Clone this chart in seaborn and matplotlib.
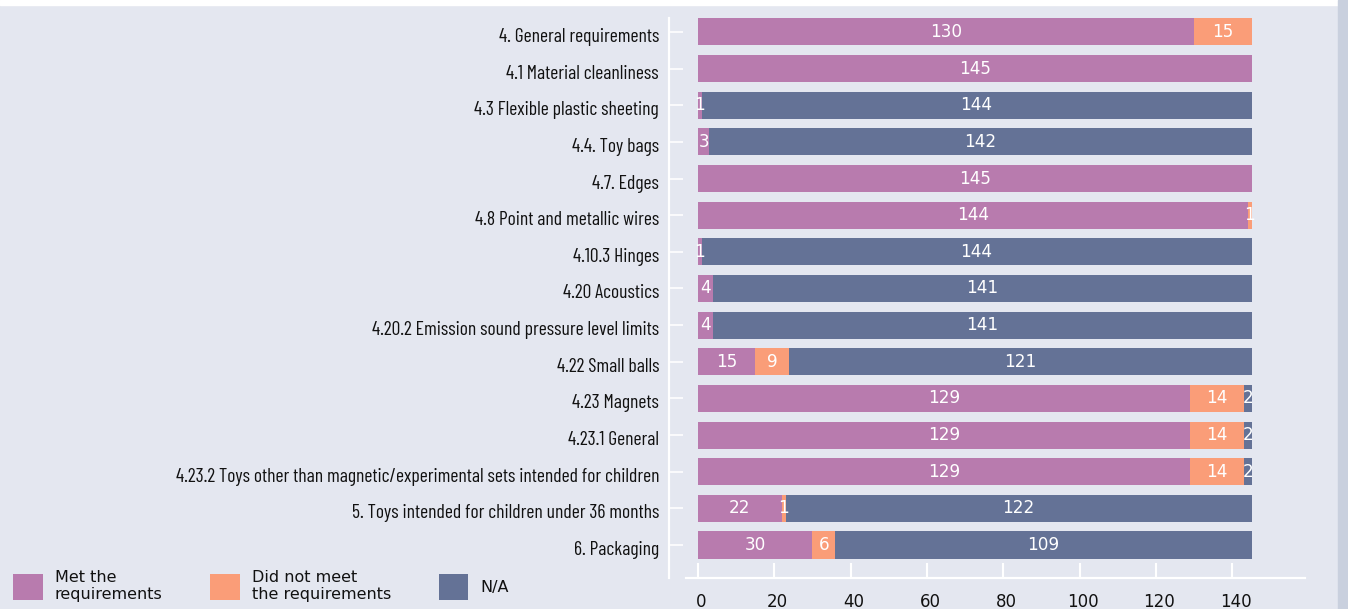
import matplotlib
matplotlib.use("Agg")
import matplotlib.pyplot as plt
from matplotlib.patches import Patch, Rectangle
from matplotlib.transforms import ScaledTranslation
from matplotlib import font_manager
import seaborn as sns
import pandas as pd

# Requirement clauses and sample counts per outcome
categories = [
    "4. General requirements",
    "4.1 Material cleanliness",
    "4.3 Flexible plastic sheeting",
    "4.4. Toy bags",
    "4.7. Edges",
    "4.8 Point and metallic wires",
    "4.10.3 Hinges",
    "4.20 Acoustics",
    "4.20.2 Emission sound pressure level limits",
    "4.22 Small balls",
    "4.23 Magnets",
    "4.23.1 General",
    "4.23.2 Toys other than magnetic/experimental sets intended for children",
    "5. Toys intended for children under 36 months",
    "6. Packaging",
]
met = [130, 145, 1, 3, 145, 144, 1, 4, 4, 15, 129, 129, 129, 22, 30]
not_met = [15, 0, 0, 0, 0, 1, 0, 0, 0, 9, 14, 14, 14, 1, 6]
na = [0, 0, 144, 142, 0, 0, 144, 141, 141, 121, 2, 2, 2, 122, 109]

series_names = ["Met the\nrequirements", "Did not meet\nthe requirements", "N/A"]
x_ticks = [0, 20, 40, 60, 80, 100, 120, 140]

C_MET = "#b87bae"
C_NOT = "#fa9d78"
C_NA = "#647296"
BG = "#e4e7f0"
INK = "#111111"

sns.set_theme(style="white")
plt.rcParams["font.family"] = ["DejaVu Sans"]

# Condensed face for the category labels
installed = {f.name for f in font_manager.fontManager.ttflist}
LABEL_FAMILY = "Barlow Condensed" if "Barlow Condensed" in installed else "DejaVu Sans"

df = pd.DataFrame({"cat": categories, "met": met, "not_met": not_met, "na": na})
df["cum_not"] = df["met"] + df["not_met"]
df["total"] = df["cum_not"] + df["na"]

W, H = 1348, 609
fig = plt.figure(figsize=(W / 100, H / 100), dpi=100, facecolor=BG)
ax = fig.add_axes([686 / W, 1 - 578 / H, (1305 - 686) / W, (578 - 18) / H])
ax.set_facecolor(BG)

# Stacked bars drawn as overlapping cumulative layers
for col, color in [("total", C_NA), ("cum_not", C_NOT), ("met", C_MET)]:
    sns.barplot(data=df, x=col, y="cat", orient="h", color=color,
                width=0.74, saturation=1, ax=ax, linewidth=0)

# Segment value labels
for i, row in df.iterrows():
    start = 0
    for v in (row["met"], row["not_met"], row["na"]):
        if v > 0:
            ax.text(start + v / 2, i, str(v), ha="center", va="center",
                    color="white", fontsize=12.2)
        start += v

ax.set_xlim(-3.1, 159)
ax.set_ylim(14.9, -0.38)
ax.set_xlabel("")
ax.set_ylabel("")

# Spines (positioning resets ticks, so do it before styling tick labels)
ax.spines["top"].set_visible(False)
ax.spines["right"].set_visible(False)
for s in ("left", "bottom"):
    ax.spines[s].set_color("white")
    ax.spines[s].set_linewidth(1.6)
ax.spines["left"].set_position(("outward", 12.2))

ax.tick_params(axis="x", direction="in", length=11, width=1.5, color="white",
               pad=11.0, bottom=True)
ax.tick_params(axis="y", direction="in", length=10, width=1.2, color="white",
               pad=7.2, left=True)

# Size the category labels so the longest one spans about 483 px
renderer = fig.canvas.get_renderer()
probe = fig.text(0, 0, max(categories, key=len), family=LABEL_FAMILY, fontsize=12)
probe_w = probe.get_window_extent(renderer).width
probe.remove()
label_size = 12 * 483 / probe_w

ax.set_xticks(x_ticks)
ax.set_xticklabels([str(t) for t in x_ticks], fontsize=12, color=INK)
ax.set_yticks(range(len(categories)))
ax.set_yticklabels(categories, family=LABEL_FAMILY, fontsize=label_size,
                   color=INK)

# Nudge the category labels and x labels slightly
shift_y = ScaledTranslation(0, -3 / 100, fig.dpi_scale_trans)
for lab in ax.get_yticklabels():
    lab.set_transform(lab.get_transform() + shift_y)
shift_x = ScaledTranslation(3 / 100, 0, fig.dpi_scale_trans)
for lab in ax.get_xticklabels():
    lab.set_transform(lab.get_transform() + shift_x)

# Frame strips around the chart area
fig.patches.append(Rectangle((0, 1 - 5 / H), 1338 / W, 5 / H,
                             transform=fig.transFigure, color="white", zorder=0))
fig.patches.append(Rectangle((1338 / W, 0), 10 / W, 1,
                             transform=fig.transFigure, color="#c9d0de", zorder=0))

handles = [Patch(facecolor=c, edgecolor="none") for c in (C_MET, C_NOT, C_NA)]
fig.legend(handles, series_names, loc="lower left",
           bbox_to_anchor=(13 / W, 7 / H), ncol=3, frameon=False,
           fontsize=11.5, handlelength=1.85, handleheight=2.1,
           handletextpad=0.75, columnspacing=3.0, borderaxespad=0,
           borderpad=0, labelcolor=INK, labelspacing=0.2)

fig.savefig("out.png", dpi=100, facecolor=BG)
